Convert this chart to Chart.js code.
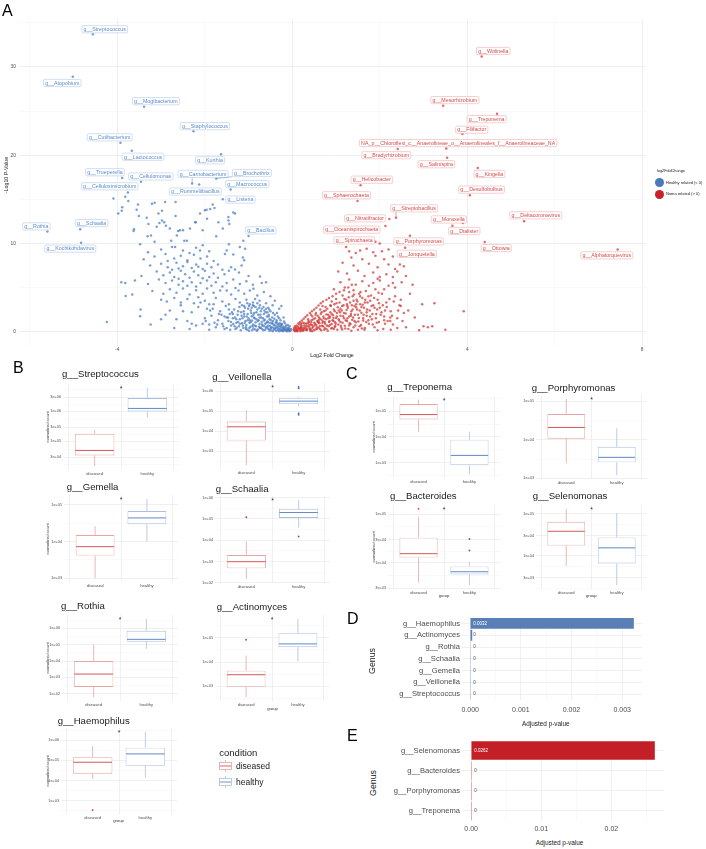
<!DOCTYPE html>
<html>
<head>
<meta charset="utf-8">
<script src="https://cdn.jsdelivr.net/npm/chart.js@4.4.1/dist/chart.umd.min.js"></script>
<style>
  html, body { margin: 0; padding: 0; background: #fff; }
  body { width: 706px; height: 849px; position: relative; overflow: hidden; font-family: "Liberation Sans", Arial, sans-serif; }
  canvas { position: absolute; }
  .t { position: absolute; white-space: nowrap; line-height: 1; color: #1a1a1a; }
</style>
</head>
<body>
<script>
// ── Panel A data: volcano (log2 fold change, -log10 p) ─────────────────────

const healthyPts = [
  [-4.09,15.1],[-3.82,15.3],[-3.75,14.8],[-3.89,14.1],[-3.9,13.7],[-3.98,13.4],[-3.53,14.4],[-3.56,13.8],
  [-3.51,13.1],[-3.62,11.6],[-3.63,11.4],[-3.33,12.9],[-3.29,12.2],[-3.31,10.8],[-3.48,9.9],[-3.21,14.5],
  [-3.15,14.6],[-2.91,14.7],[-2.67,14.7],[-3.06,13.4],[-2.98,13.7],[-3.1,11.9],[-2.93,12.4],[-2.89,12.0],
  [-3.23,10.9],[-3.15,10.2],[-2.77,10.3],[-2.64,10.9],[-2.61,11.4],[-2.5,11.5],[-2.47,10.3],[-2.34,11.7],
  [-2.22,12.4],[-2.68,9.6],[-2.0,13.75],[-1.88,13.9],[-1.78,14.0],[-1.82,14.4],[-1.69,12.4],[-1.59,11.7],
  [-1.46,13.0],[-1.46,12.6],[-1.44,12.2],[-2.05,11.5],[-1.12,10.3],[-1.13,8.4],[-1.1,8.1],[-1.16,7.5],
  [-1.74,10.8],[-1.95,12.8],[-2.11,9.2],[-1.35,13.5],[-1.2,9.6],[-1.5,9.2],[-2.98,12.6],[-3.04,12.3],
  [-2.67,13.1],[-2.8,11.7],[-2.57,11.5],[-2.21,12.4],[-2.11,13.4],[-1.96,13.8],[-2.41,10.3],[-1.31,13.4],
  [-3.0,9.3],[-2.75,9.6],[-2.5,9.2],[-2.2,9.5],[-2.05,9.8],[-1.9,9.1],[-1.45,9.9],[-1.08,9.4],[-3.3,9.0],[-2.35,8.9],
  [-3.15,8.5],[-2.9,8.8],[-2.7,8.3],[-2.55,8.6],[-2.4,8.1],[-2.25,8.7],[-2.1,8.3],[-1.95,8.5],[-1.8,8.0],
  [-1.54,8.8],[-1.35,8.75],[-2.85,8.0],[-3.4,8.2],
  [-3.25,7.5],[-3.0,7.7],[-2.85,7.3],[-2.65,7.8],[-2.5,7.4],[-2.4,7.9],[-2.3,7.2],[-2.2,7.6],[-2.05,7.1],
  [-1.95,7.7],[-1.85,7.3],[-1.7,7.6],[-1.6,7.0],[-1.4,7.3],[-1.31,7.05],[-2.75,7.0],[-2.6,7.15],[-2.15,7.35],
  [-3.45,6.3],[-3.1,6.8],[-2.95,6.4],[-2.8,6.7],[-2.7,6.2],[-2.55,6.9],[-2.45,6.5],[-2.35,6.1],[-2.25,6.8],
  [-2.15,6.4],[-2.0,6.9],[-1.9,6.2],[-1.8,6.6],[-1.7,6.1],[-1.55,6.5],[-1.45,6.9],[-1.22,6.7],[-1.0,6.3],
  [-0.74,6.25],[-0.6,5.6],[-2.6,6.0],[-2.05,6.05],
  [-3.6,5.8],[-3.91,5.6],[-3.82,5.5],[-3.3,5.4],[-3.05,5.9],[-2.9,5.5],[-2.75,5.8],[-2.6,5.3],[-2.5,5.7],
  [-2.4,5.2],[-2.3,5.6],[-2.2,5.1],[-2.1,5.5],[-1.95,5.8],[-1.85,5.2],[-1.75,5.6],[-1.6,5.1],[-1.5,5.5],
  [-1.35,5.9],[-1.2,5.4],[-1.05,5.7],[-0.9,5.3],[-0.7,5.5],
  [-3.81,4.05],[-3.66,4.2],[-3.2,4.6],[-2.95,4.3],[-2.8,4.8],[-2.65,4.4],[-2.5,4.9],[-2.35,4.2],[-2.2,4.7],
  [-2.05,4.3],[-1.95,4.9],[-1.8,4.4],[-1.65,4.66],[-1.5,4.66],[-1.4,4.2],[-1.23,4.66],[-1.1,4.3],[-0.97,4.66],
  [-0.89,4.85],[-0.8,4.1],[-0.65,4.5],[-0.5,4.0],[-1.3,4.95],
  [-3.47,2.5],[-3.48,1.74],[-3.0,3.6],[-2.87,3.4],[-2.7,3.8],[-2.55,3.3],[-2.4,3.7],[-2.25,3.2],[-2.15,3.9],
  [-2.0,3.5],[-1.9,3.1],[-1.75,3.8],[-1.6,3.4],[-1.45,3.1],[-1.3,3.7],[-1.2,3.3],[-1.05,3.6],[-0.9,3.3],
  [-0.75,3.5],[-0.6,3.2],[-0.45,3.0],[-0.3,2.6],[-0.55,2.7],[-0.35,2.1],[-0.2,1.6],
  [-4.24,1.1],[-3.24,0.8],[-3.0,1.4],[-2.8,2.4],[-2.35,0.3],[-1.9,0.2],[-0.85,3.7],[-0.4,3.5],[-0.25,2.9],
  [-0.05,0.1],[-0.1,0.2],[-0.12,0.05],[-0.15,0.35],[-0.18,0.15],[-0.2,0.5],[-0.22,0.25],[-0.25,0.1],[-0.27,0.6],
  [-0.3,0.35],[-0.32,0.8],[-0.33,0.15],[-0.35,0.55],[-0.38,1.0],[-0.4,0.3],[-0.42,0.75],[-0.44,1.2],[-0.45,0.05],
  [-0.47,0.5],[-0.5,0.95],[-0.52,1.4],[-0.53,0.25],[-0.55,0.7],[-0.57,1.15],[-0.58,1.7],[-0.6,0.45],[-0.62,0.9],
  [-0.63,1.35],[-0.65,2.0],[-0.66,0.15],[-0.68,0.65],[-0.7,1.1],[-0.71,1.6],[-0.72,2.3],[-0.74,0.4],[-0.75,0.85],
  [-0.77,1.3],[-0.78,1.9],[-0.8,2.5],[-0.81,0.1],[-0.83,0.6],[-0.84,1.05],[-0.86,1.5],[-0.87,2.1],[-0.89,0.35],
  [-0.9,0.8],[-0.92,1.25],[-0.93,1.75],[-0.95,2.4],[-0.96,0.55],[-0.98,1.0],[-1.0,1.5],[-1.02,2.0],[-1.03,0.2],
  [-1.05,0.75],[-1.07,1.2],[-1.08,2.7],[-1.1,1.7],[-1.12,0.4],[-1.15,0.95],[-1.17,2.2],[-1.2,1.4],[-1.22,0.6],
  [-1.25,1.9],[-1.28,1.0],[-1.3,0.3],[-1.33,2.5],[-1.36,1.5],[-1.4,0.7],[-1.43,2.0],[-1.46,1.2],[-1.5,0.4],
  [-1.52,2.9],[-1.55,1.7],[-1.6,0.9],[-1.65,2.3],[-1.7,1.3],[-1.75,0.5],[-1.8,3.1],[-1.85,1.8],[-1.9,0.8],
  [-1.95,2.6],[-2.0,1.5],[-2.1,3.3],[-2.2,0.7],[-2.3,2.2],[-2.4,1.2],[-2.55,3.0],[-2.7,0.4],[-2.9,1.9],
  [-0.08,0.45],[-0.14,0.7],[-0.24,0.9],[-0.36,1.3],[-0.46,1.6],[-0.54,1.9],[-0.64,2.4],[-0.76,2.7],[-0.88,2.9],[-0.97,3.1],
  [-0.03,0.3],[-0.07,0.05],[-0.09,0.2],[-0.11,0.4],[-0.13,0.15],[-0.16,0.55],[-0.19,0.3],[-0.21,0.05],[-0.23,0.7],
  [-0.26,0.45],[-0.28,0.2],[-0.29,0.95],[-0.31,0.6],[-0.34,0.35],[-0.36,1.1],[-0.37,0.1],[-0.39,0.7],[-0.41,1.45],
  [-0.43,0.45],[-0.46,1.0],[-0.48,0.2],[-0.49,1.3],[-0.51,0.6],[-0.54,1.7],[-0.56,0.35],[-0.59,1.0],[-0.61,2.2],
  [-0.64,0.6],[-0.67,1.5],[-0.69,0.3],[-0.73,1.9],[-0.76,0.55],[-0.79,1.2],[-0.82,2.2],[-0.85,0.25],[-0.88,1.6],
  [-0.91,0.6],[-0.94,2.1],[-0.97,1.3],[-0.99,0.1],[-1.01,2.6],[-1.04,1.7],[-1.06,0.5],[-1.09,1.0],[-1.11,2.3],
  [-1.14,1.5],[-1.18,0.15],[-1.21,2.8],[-1.24,1.1],[-1.27,0.45],[-1.31,1.6],[-1.35,0.85],[-1.38,2.2],[-1.42,0.2],
  [-1.47,1.6],[-1.58,0.6],[-1.68,2.0],[-1.78,1.0],[-1.88,2.4],[-2.05,0.9],
  [-0.06,0.6],[-0.1,0.75],[-0.17,0.95],[-0.19,1.15],[-0.27,1.3],[-0.3,1.5],[-0.33,1.7],[-0.4,1.9],[-0.44,2.1],
  [-0.5,2.3],[-0.53,2.5],[-0.57,2.2],[-0.6,2.6],[-0.66,2.8],[-0.7,2.6],[-0.74,3.0],[-0.8,3.2],[-0.84,2.8],
  [-0.9,3.0],[-0.93,2.7],[-0.99,2.9],[-1.03,3.2],[-1.1,2.9],[-1.15,3.0],
  [-0.04,0.15],[-0.08,0.3],[-0.14,0.1],[-0.16,0.25],[-0.21,0.4],[-0.24,0.15],[-0.26,0.8],[-0.3,0.05],[-0.34,0.9],
  [-0.38,0.45],[-0.42,0.2],[-0.45,0.85],[-0.49,0.4],[-0.52,0.1],[-0.55,1.05],[-0.58,0.55],[-0.62,0.2],[-0.65,1.25],
  [-0.69,0.8],[-0.72,0.45],[-0.75,1.6],[-0.79,0.25],[-0.82,1.4],[-0.86,0.7],[-0.89,1.9],[-0.92,0.15],[-0.95,1.1],
  [-0.98,0.4],[-1.02,1.3],[-1.06,0.3],[-1.1,2.0],[-1.13,0.7],[-1.16,1.8],[-1.2,0.9],[-1.24,2.3],[-1.28,1.4],
  [-1.32,0.6],[-1.36,2.0],[-1.4,1.1],[-1.45,2.5],[-1.5,1.6],[-1.55,0.3],[-1.62,1.9],[-1.72,0.8],[-1.82,2.6],
  [-1.98,1.2],[-2.15,2.8],[-2.3,0.9],[-2.5,2.3],[-2.65,1.4]
];

const nomaPts = [
  [0.05,0.1],[0.1,0.25],[0.12,0.05],[0.15,0.4],[0.18,0.15],[0.2,0.55],[0.22,0.3],[0.25,0.1],[0.27,0.7],[0.3,0.4],
  [0.32,0.9],[0.33,0.15],[0.35,0.6],[0.38,1.1],[0.4,0.3],[0.42,0.8],[0.44,1.3],[0.45,0.05],[0.47,0.55],[0.5,1.0],
  [0.52,1.5],[0.53,0.25],[0.55,0.75],[0.57,1.2],[0.58,1.8],[0.6,0.45],[0.62,0.95],[0.63,1.45],[0.65,2.0],[0.66,0.15],
  [0.68,0.65],[0.7,1.15],[0.71,1.7],[0.72,2.3],[0.74,0.4],[0.75,0.9],[0.77,1.4],[0.78,1.95],[0.8,2.6],[0.81,0.1],
  [0.83,0.6],[0.84,1.1],[0.86,1.6],[0.87,2.2],[0.88,2.9],[0.89,0.35],[0.9,0.85],[0.92,1.3],[0.93,1.85],[0.95,2.5],
  [0.96,3.1],[0.97,0.55],[0.98,1.05],[1.0,1.55],[1.02,2.1],[1.03,0.2],[1.04,2.75],[1.05,0.8],[1.07,1.25],[1.08,3.3],
  [1.1,1.8],[1.12,0.45],[1.13,2.4],[1.15,1.0],[1.17,3.0],[1.18,1.5],[1.2,0.65],[1.22,2.05],[1.23,3.6],[1.25,1.2],
  [1.27,2.7],[1.28,0.3],[1.3,1.7],[1.32,3.3],[1.33,0.85],[1.35,2.3],[1.37,1.35],[1.38,4.0],[1.4,0.5],[1.42,2.9],
  [1.43,1.9],[1.45,1.05],[1.47,3.6],[1.48,2.5],[1.5,0.2],[1.52,1.55],[1.53,4.3],[1.55,3.1],[1.57,0.75],[1.58,2.15],
  [1.6,3.8],[1.62,1.25],[1.64,2.7],[1.66,0.4],[1.68,4.6],[1.7,1.8],[1.72,3.3],[1.75,0.9],[1.77,2.4],[1.8,4.1],
  [1.82,1.4],[1.85,3.0],[1.88,0.5],[1.9,4.8],[1.92,2.0],[1.95,3.6],[1.98,1.1],[2.0,2.7],[2.05,4.3],[2.08,0.3],
  [2.1,1.7],[2.15,3.3],[2.2,5.2],[2.25,2.3],[2.3,0.8],[2.35,4.0],[2.4,1.5],[2.45,3.0],[2.55,2.1],[2.6,0.5],
  [0.08,0.5],[0.16,0.8],[0.24,1.0],[0.36,1.4],[0.46,1.7],[0.54,2.1],[0.64,2.5],[0.76,2.8],[0.9,3.4],[1.0,3.7],
  [1.15,4.1],[1.3,4.5],[0.2,0.9],[0.43,1.9],[0.69,2.9],[0.6,1.3],[0.85,1.75],[1.1,2.6],[1.25,3.1],[1.4,3.5],
  [1.55,4.0],[0.95,0.3],[1.35,0.1],[1.65,0.2],[1.95,0.15],[2.25,0.2],
  [0.03,0.2],[0.07,0.05],[0.09,0.35],[0.11,0.15],[0.13,0.55],[0.17,0.3],[0.19,0.05],[0.21,0.7],[0.23,0.45],[0.26,0.2],
  [0.28,0.95],[0.31,0.6],[0.34,0.3],[0.37,1.2],[0.39,0.75],[0.41,0.1],[0.43,1.05],[0.46,0.4],[0.48,1.4],[0.51,0.7],
  [0.53,1.9],[0.56,0.3],[0.59,1.05],[0.61,1.6],[0.63,0.6],[0.67,2.2],[0.69,1.0],[0.73,0.2],[0.73,1.5],[0.76,2.4],
  [0.79,0.7],[0.82,1.9],[0.85,1.2],[0.87,3.0],[0.91,0.4],[0.94,1.55],[0.97,2.3],[0.99,0.9],[1.01,3.2],[1.06,1.4],
  [1.09,2.2],[1.11,0.65],[1.14,2.9],[1.16,1.75],[1.19,3.7],[1.21,0.35],[1.24,2.45],[1.26,1.5],[1.29,3.9],[1.31,0.95],
  [1.34,2.0],[1.36,3.0],[1.39,1.6],[1.41,4.2],[1.44,0.7],[1.46,2.75],[1.49,3.4],[1.51,1.15],[1.54,2.4],[1.56,4.5],
  [1.59,0.35],[1.61,3.05],[1.63,1.9],[1.67,3.6],[1.69,1.1],[1.71,2.5],[1.74,4.0],[1.78,1.7],[1.81,2.9],[1.84,0.8],
  [1.87,3.8],[1.91,1.5],[1.94,2.5],[1.97,4.4],[2.02,1.9],[2.07,3.0],[2.12,2.4],[2.18,1.2],[2.22,3.7],[2.28,1.8],
  [0.04,0.4],[0.06,0.6],[0.1,0.7],[0.14,0.95],[0.18,1.1],[0.22,1.25],[0.26,1.45],[0.3,1.65],[0.34,1.85],[0.4,2.1],
  [0.45,2.3],[0.5,2.5],[0.55,2.7],[0.6,2.95],[0.65,3.2],[0.7,3.4],[0.78,3.6],[0.84,3.8],[0.92,4.0],[1.0,4.3],
  [1.08,4.5],[1.18,4.7],[1.28,5.0],[1.36,5.3],
  [0.06,0.25],[0.1,0.1],[0.14,0.3],[0.19,0.45],[0.23,0.15],[0.27,0.4],[0.31,0.2],[0.35,0.95],[0.39,0.5],[0.42,0.25],
  [0.45,0.75],[0.49,0.15],[0.52,0.9],[0.56,0.5],[0.6,1.1],[0.63,0.3],[0.67,1.35],[0.7,0.6],[0.74,1.1],[0.78,0.3],
  [0.82,1.5],[0.86,0.75],[0.9,2.0],[0.94,1.2],[0.98,0.6],[1.02,1.7],[1.06,2.4],[1.1,1.1],[1.14,0.25],[1.18,2.1],
  [1.22,1.3],[1.26,2.9],[1.3,0.7],[1.34,1.8],[1.38,2.5],[1.42,1.2],[1.46,3.1],[1.5,1.9],[1.54,0.6],[1.58,2.8],
  [1.62,1.5],[1.66,3.3],[1.7,2.2],[1.74,1.3],[1.78,3.5],[1.83,2.0],[1.88,2.7],[1.93,1.0],[1.98,3.2],[2.04,2.2],
  [2.1,1.3],[2.16,2.8],[2.24,1.6],[2.32,3.4],[2.42,2.4],[2.52,1.2],
  [1.23,9.6],[1.55,9.2],[1.45,8.9],[1.7,9.4],[1.85,9.0],[2.05,9.1],[2.2,9.3],[1.35,8.4],[1.6,8.2],[1.9,8.6],
  [2.1,8.2],[2.3,8.5],[2.46,7.6],[2.55,7.4],[1.15,7.8],[1.4,7.5],[1.75,7.7],[1.95,7.3],[2.2,7.6],[2.35,7.1],
  [1.05,6.8],[1.25,6.6],[1.5,6.9],[1.65,6.3],[1.85,6.7],[2.0,6.2],[2.15,6.5],[2.3,6.2],[2.4,6.8],[1.1,5.6],
  [1.3,5.9],[1.45,5.3],[1.6,5.7],[1.75,5.2],[2.0,5.8],[2.3,5.5],[2.35,5.0],[2.5,5.6],[0.95,4.8],[1.2,5.0],
  [1.4,4.7],[1.85,5.5],[2.1,4.8],[2.75,5.3],[2.69,4.3],[2.48,3.6],[2.48,2.9],[2.97,3.1],[3.25,3.2],[3.92,2.3],
  [3.0,0.6],[3.1,0.5],[3.2,0.6],[2.24,1.2],[2.12,0.9],[2.4,0.4],[2.8,1.6],[2.65,2.4],[3.5,0.2],[2.9,0.15],
  [1.95,6.0],[2.6,6.3],[2.0,10.0],[1.3,9.1]
];

// labelled genera: [name, log2FC, -log10 p]
const healthyLabelled = [
  ['g__Streptococcus', -4.56, 33.7], ['g__Atopobium', -5.02, 28.9], ['g__Mogibacterium', -3.39, 25.5],
  ['g__Staphylococcus', -2.26, 22.7], ['g__Cutibacterium', -3.93, 21.4], ['g__Lactococcus', -3.67, 20.5],
  ['g__Kurthia', -1.63, 20.1], ['g__Trueperella', -3.89, 17.4], ['g__Cellulomonas', -3.46, 17.0],
  ['g__Carnobacterium', -2.29, 16.8], ['g__Brochothrix', -1.74, 17.35], ['g__Cellulosimicrobium', -3.76, 15.76],
  ['g__Macrococcus', -1.41, 16.1], ['g__Rummeliibacillus', -2.13, 16.67], ['g__Listeria', -1.59, 15.0],
  ['g__Bacillus', -1.0, 10.83], ['g__Rothia', -5.6, 11.36], ['g__Schaalia', -4.85, 11.6],
  ['g__Kochikohdavirus', -4.83, 10.08]
];
const nomaLabelled = [
  ['g__Wolinella', 4.33, 31.2], ['g__Mesorhizobium', 3.45, 25.6], ['g__Treponema', 4.68, 24.7],
  ['g__Filifactor', 3.89, 22.4],
  ['NA_p__Chloroflexi_c__Anaerolineae_o__Anaerolineales_f__Anaerolineaceae_NA', 3.52, 20.75],
  ['g__Bradyrhizobium', 2.41, 20.7], ['g__Salinispira', 3.54, 19.7], ['g__Kingella', 4.24, 18.55],
  ['g__Helicobacter', 1.56, 16.6], ['g__Desulfobulbus', 4.06, 15.45], ['g__Sphaerochaeta', 1.49, 14.8],
  ['g__Streptobacillus', 2.37, 12.92], ['g__Nitratifractor', 2.22, 12.76], ['g__Oceanispirochaeta', 2.13, 11.97],
  ['g__Moraxella', 3.66, 12.0], ['g__Dialister', 3.9, 12.3], ['g__Deltacoronavirus', 5.3, 12.5],
  ['g__Porphyromonas', 2.69, 10.87], ['g__Jonquetella', 2.58, 9.5], ['g__Ottowia', 4.4, 10.15],
  ['g__Alphatorquevirus', 7.44, 9.3], ['g__Spirochaeta', 1.9, 10.2]
];

// ── Panels B/C data: per-genus box statistics ──────────────────────────────

const boxGenera = ['g__Streptococcus', 'g__Veillonella', 'g__Gemella', 'g__Schaalia', 'g__Rothia', 'g__Actinomyces',
  'g__Haemophilus', 'g__Treponema', 'g__Porphyromonas', 'g__Bacteroides', 'g__Selenomonas'];
const groups = ['diseased', 'healthy'];
// [lower whisker, Q1, median, Q3, upper whisker]
const diseasedStats = [
  [1.5e4, 3.4e4, 5.0e4, 1.8e5, 2.4e5],
  [200, 3.4e3, 1.66e4, 3.05e4, 1.17e5],
  [1.0e3, 4.1e3, 7.2e3, 1.49e4, 2.6e4],
  [150, 480, 980, 2.0e3, 8.9e3],
  [63, 260, 1.6e3, 1.0e4, 1.0e5],
  [360, 950, 3.0e3, 4.4e3, 1.86e4],
  [1.17e4, 2.2e4, 8.1e4, 1.45e5, 5.2e5],
  [1.6e4, 4.8e4, 7.4e4, 1.9e5, 2.8e5],
  [2.45e3, 1.07e4, 2.1e4, 4.7e4, 1.17e5],
  [4.0e3, 1.29e4, 1.55e4, 3.3e4, 8.9e4],
  [5.8e3, 1.76e4, 3.85e4, 6.5e4, 1.32e5]
];
const healthyStats = [
  [6.3e5, 1.0e6, 1.26e6, 2.8e6, 6.1e6],
  [1.8e5, 2.3e5, 3.2e5, 4.7e5, 5.4e5],
  [1.0e4, 2.95e4, 4.4e4, 6.8e4, 1.45e5],
  [3.9e4, 1.12e5, 2.0e5, 2.95e5, 7.8e5],
  [5.5e4, 1.48e5, 2.1e5, 6.9e5, 3.7e6],
  [1.05e4, 4.1e4, 5.6e4, 1.55e5, 6.0e5],
  [1.4e4, 5.4e4, 2.1e5, 4.3e5, 2.6e6],
  [350, 790, 1.9e3, 7.8e3, 1.6e4],
  [1.2e3, 2.6e3, 3.5e3, 6.6e3, 2.0e4],
  [3.5e3, 5.8e3, 6.6e3, 8.5e3, 1.05e4],
  [2.0e3, 6.6e3, 1.55e4, 2.75e4, 1.05e5]
];
const diseasedOutliers = [[], [], [], [1.2e5], [], [8.3e4], [340], [], [], [1.29e5], []];
const healthyOutliers = [[], [1.66e6, 1.41e6, 7.9e4, 6.6e4], [], [1.5e4], [], [], [], [], [], [3.1e4, 1.8e4], []];
const boxTicks = [
  [3e4, 1e5, 3e5, 1e6, 3e6],
  [1e3, 1e4, 1e5, 1e6],
  [1e3, 1e4, 1e5],
  [1e2, 1e3, 1e4, 1e5, 1e6],
  [1e2, 1e3, 1e4, 1e5, 1e6],
  [1e3, 1e4, 1e5],
  [1e3, 1e4, 1e5, 1e6],
  [1e3, 1e4, 1e5],
  [1e3, 1e4, 1e5],
  [3e3, 1e4, 3e4, 1e5],
  [3e3, 1e4, 3e4, 1e5]
];

// ── Panels D/E data: adjusted p-values ─────────────────────────────────────

const healthyGenera = ['g__Haemophilus', 'g__Actinomyces', 'g__Rothia', 'g__Schaalia', 'g__Gemella', 'g__Veillonella', 'g__Streptococcus'];
const healthyPadj = [0.00323, 0.00004, 0.000002, 0.0000005, 0.0000001, 0.0000001, 0.00000005];
const nomaGenera = ['g__Selenomonas', 'g__Bacteroides', 'g__Porphyromonas', 'g__Treponema'];
const nomaPadj = [0.0262, 0.000003, 0.0000004, 0.0000001];

// ── Style ──────────────────────────────────────────────────────────────────

const FONT = '"Liberation Sans", Arial, sans-serif';
const AXIS_TXT = '#4d4d4d';
const BLUE_PT = 'rgba(70,122,192,0.72)', RED_PT = 'rgba(206,52,52,0.72)';
const BLUE_TXT = '#5a8bcb', BLUE_EDGE = '#b3c9e8';
const RED_TXT = '#d24a4a', RED_EDGE = '#efb0b0';
const BOX_RED = '#e9a4a4', BOX_RED_MED = '#d45858', BOX_RED_DOT = '#e02a2a';
const BOX_BLUE = '#aac0e2', BOX_BLUE_MED = '#6289c8', BOX_BLUE_DOT = '#3467c2';
const GRID = '#e6e6e6', GRID_MINOR = '#f2f2f2';

Chart.defaults.font.family = FONT;
Chart.defaults.color = AXIS_TXT;
Chart.defaults.animation = false;
Chart.defaults.plugins.legend.display = false;
Chart.defaults.plugins.tooltip.enabled = false;

// ── Utilities ──────────────────────────────────────────────────────────────

function txt(s, x, base, size, o = {}) {
  const d = document.createElement('div');
  d.className = 't';
  d.textContent = s;
  d.style.fontSize = size + 'px';
  d.style.left = x + 'px';
  d.style.top = (base - 0.847 * size) + 'px';
  if (o.color) d.style.color = o.color;
  if (o.center) d.style.transform = 'translateX(-50%)';
  document.body.appendChild(d);
  return d;
}

function vtxt(s, cx, cy, size, color) {
  const d = document.createElement('div');
  d.className = 't';
  d.textContent = s;
  d.style.fontSize = size + 'px';
  d.style.left = cx + 'px';
  d.style.top = cy + 'px';
  d.style.color = color || '#1a1a1a';
  d.style.transform = 'translate(-50%,-50%) rotate(-90deg)';
  document.body.appendChild(d);
}

function fmtE(v) {
  const e = Math.floor(Math.log10(v) + 1e-9);
  const m = Math.round(v / 10 ** e);
  return m + 'e' + (e >= 0 ? '+' : '-') + String(Math.abs(e)).padStart(2, '0');
}

// place a chart so that its plot area lands on `area` (page pixels)
function place(area, m, config) {
  const cv = document.createElement('canvas');
  const W = Math.round(m.l + area.w + m.r), H = Math.round(m.t + area.h + m.b);
  cv.width = W; cv.height = H;
  cv.style.width = W + 'px'; cv.style.height = H + 'px';
  document.body.appendChild(cv);
  const o = config.options;
  o.responsive = false;
  o.maintainAspectRatio = false;
  o.layout = { padding: { top: m.t, right: m.r, left: 0, bottom: 0 } };
  Object.values(o.scales).forEach(s => {
    s.afterFit = sc => { if (sc.isHorizontal()) sc.height = m.b; else sc.width = m.l; };
  });
  const ch = new Chart(cv, config);
  const a = ch.chartArea;
  cv.style.left = (area.x - a.left) + 'px';
  cv.style.top = (area.y - a.top) + 'px';
  return ch;
}

function logMinors(majors, lo, hi) {
  const lg = majors.map(Math.log10), out = [];
  for (let i = 0; i < lg.length - 1; i++) out.push((lg[i] + lg[i + 1]) / 2);
  if (lg.length > 1) {
    out.push(lg[0] - (lg[1] - lg[0]) / 2);
    out.push(lg[lg.length - 1] + (lg[lg.length - 1] - lg[lg.length - 2]) / 2);
  }
  return out.filter(v => v > lo && v < hi).map(v => 10 ** v);
}

// ── Panel A: volcano ───────────────────────────────────────────────────────

const healthyLabelOffsets = [
  [11.8, -5.1], [-10.5, 6.3], [11.8, -5.5], [11.4, -5.2], [-10.8, -5.5], [11.3, 6], [-11, 6], [-17.3, -5.9],
  [9.8, -5.2], [10.9, -9.5, 1], [35.7, -5.5, 1], [-18.2, -6.3], [16.6, -5.5], [-3.8, 7], [17.6, 0.3],
  [12.2, -5.7], [-11.1, -5], [11.4, -6.2], [-10.8, 6]
];
const nomaLabelOffsets = [
  [11.6, -5.4], [11.7, -5.7], [-10.3, 5.4], [9.3, -4.3], [11.9, -5.5], [-11.4, 6.2], [-10.8, 6.4], [11.7, 6],
  [11.3, -5.5], [11.7, -5.7], [-11, -5.8], [18.2, -9.3, 1], [-24.3, -0.7], [-33.7, 3.6], [-3.5, -6.3],
  [1.4, 7.9], [11.7, -6], [8.8, 5.7], [11.7, 6], [11.5, 6], [-10.9, 5.8], [-21.2, -1.2]
];

const repelLabels = {
  id: 'repelLabels',
  afterDatasetsDraw(ch) {
    const { ctx, scales: { x, y } } = ch;
    ctx.save();
    ctx.font = `5.3px ${FONT}`;
    ctx.textAlign = 'center';
    ctx.textBaseline = 'middle';
    const sets = [
      [healthyLabelled, healthyLabelOffsets, BLUE_TXT, BLUE_EDGE],
      [nomaLabelled, nomaLabelOffsets, RED_TXT, RED_EDGE]
    ];
    for (const [pts, offs, tc, ec] of sets) {
      pts.forEach(([name, lx, ly], i) => {
        const px = x.getPixelForValue(lx), py = y.getPixelForValue(ly);
        const [dx, dy, seg] = offs[i];
        const cx = px + dx, cy = py + dy;
        const w = ctx.measureText(name).width + 3.4, h = 7.2;
        const bx = cx - w / 2, by = cy - h / 2;
        if (seg) {
          const nx = Math.min(Math.max(px, bx), bx + w), ny = Math.min(Math.max(py, by), by + h);
          ctx.strokeStyle = tc; ctx.lineWidth = 0.5;
          ctx.beginPath(); ctx.moveTo(px, py); ctx.lineTo(nx, ny); ctx.stroke();
        }
        ctx.beginPath();
        if (ctx.roundRect) ctx.roundRect(bx, by, w, h, 1.4); else ctx.rect(bx, by, w, h);
        ctx.fillStyle = 'rgba(255,255,255,0.92)'; ctx.fill();
        ctx.strokeStyle = ec; ctx.lineWidth = 0.6; ctx.stroke();
        ctx.fillStyle = tc;
        ctx.fillText(name, cx, cy + 0.3);
      });
    }
    ctx.restore();
  }
};

(function volcano() {
  const hPts = healthyPts.concat(healthyLabelled.map(r => [r[1], r[2]]));
  const nPts = nomaPts.concat(nomaLabelled.map(r => [r[1], r[2]]));
  const all = hPts.concat(nPts);
  const xs = all.map(p => p[0]), ys = all.map(p => p[1]);
  const xlo = Math.min(...xs), xhi = Math.max(...xs), ylo = Math.min(...ys), yhi = Math.max(...ys);
  const xp = 0.05 * (xhi - xlo), yp = 0.05 * (yhi - ylo);
  const xMaj = [-4, 0, 4, 8], yMaj = [0, 10, 20, 30];
  const gridCol = maj => c => maj.includes(c.tick.value) ? GRID : GRID_MINOR;
  const gridW = maj => c => maj.includes(c.tick.value) ? 0.7 : 0.5;

  place({ x: 18.9, y: 19.5, w: 627.3, h: 326.3 }, { l: 18.9, t: 19.5, r: 59.8, b: 10 }, {
    type: 'scatter',
    data: {
      datasets: [
        { data: hPts.map(p => ({ x: p[0], y: p[1] })), backgroundColor: BLUE_PT, borderWidth: 0, pointRadius: 1.25 },
        { data: nPts.map(p => ({ x: p[0], y: p[1] })), backgroundColor: RED_PT, borderWidth: 0, pointRadius: 1.25 }
      ]
    },
    options: {
      scales: {
        x: {
          type: 'linear', min: xlo - xp, max: xhi + xp,
          afterBuildTicks: s => { s.ticks = [-6, -4, -2, 0, 2, 4, 6, 8].map(v => ({ value: v })); },
          ticks: { callback: v => xMaj.includes(v) ? String(v) : '', font: { size: 4.8 }, padding: 0.6, autoSkip: false, maxRotation: 0 },
          grid: { color: gridCol(xMaj), lineWidth: gridW(xMaj), drawTicks: false },
          border: { display: false }
        },
        y: {
          type: 'linear', min: ylo - yp, max: yhi + yp,
          afterBuildTicks: s => { s.ticks = [0, 5, 10, 15, 20, 25, 30, 35].map(v => ({ value: v })); },
          ticks: { callback: v => yMaj.includes(v) ? String(v) : '', font: { size: 4.8 }, padding: 3, autoSkip: false },
          grid: { color: gridCol(yMaj), lineWidth: gridW(yMaj), drawTicks: false },
          border: { display: false }
        }
      }
    },
    plugins: [repelLabels]
  });

  txt('Log2 Fold Change', 332, 357.5, 5.3, { center: true });
  vtxt('-Log10 P-Value', 6.5, 175, 5.3);

  // legend
  txt('log2FoldChange', 657, 173.5, 3.8);
  [['#4a78ba', 'Healthy related (< 0)', 182.7], ['#c8222a', 'Noma related (> 0)', 194.3]].forEach(([col, lab, cy]) => {
    const dot = document.createElement('div');
    dot.style.cssText = `position:absolute;left:${659.7 - 4.7}px;top:${cy - 4.7}px;width:9.4px;height:9.4px;border-radius:50%;background:${col};`;
    document.body.appendChild(dot);
    txt(lab, 666, cy + 1.4, 4);
  });
})();

// ── Panels B/C: box plots ──────────────────────────────────────────────────

const boxAreas = [
  { x: 62.5, y: 383.8, w: 115.5, h: 86.1 },
  { x: 215.2, y: 383.4, w: 114.8, h: 86.2 },
  { x: 63.8, y: 495.2, w: 114.4, h: 87.2 },
  { x: 215, y: 495.7, w: 115.3, h: 86.5 },
  { x: 62, y: 615.4, w: 116, h: 86.1 },
  { x: 215.3, y: 615.4, w: 114.4, h: 86.1 },
  { x: 60.6, y: 728.1, w: 115.8, h: 86.2 },
  { x: 387.9, y: 395.6, w: 112.2, h: 82.4 },
  { x: 536, y: 394.5, w: 110.7, h: 83.6 },
  { x: 387.9, y: 505.2, w: 112.2, h: 83.6 },
  { x: 536, y: 505.2, w: 110.7, h: 83.6 }
];
// title [left, baseline]; x of the rotated y title (null = none); whether "group" is shown
const boxTitles = [[62, 377.3], [212.3, 379.7], [66.7, 490], [215.7, 492], [61, 608.7], [216.7, 610], [57.7, 724],
  [387.3, 390], [531.7, 391.5], [390, 499], [532.7, 499]];
const boxYTitleX = [47.7, null, 47.7, null, 47.7, null, 47.7, 374, null, 374, null];
const boxHasGroup = [false, false, false, false, false, true, true, false, false, true, true];

function boxPlugin(stats) {
  return {
    id: 'boxParts',
    beforeDatasetsDraw(ch) {
      const { ctx, scales: { x, y } } = ch;
      ctx.save();
      ctx.lineWidth = 0.8;
      stats.forEach((s, i) => {
        const px = x.getPixelForValue(i + 1);
        ctx.strokeStyle = i === 0 ? BOX_RED : BOX_BLUE;
        ctx.beginPath();
        ctx.moveTo(px, y.getPixelForValue(s[0])); ctx.lineTo(px, y.getPixelForValue(s[1]));
        ctx.moveTo(px, y.getPixelForValue(s[3])); ctx.lineTo(px, y.getPixelForValue(s[4]));
        ctx.stroke();
      });
      ctx.restore();
    },
    afterDatasetsDraw(ch) {
      const { ctx, scales: { x, y } } = ch;
      const bars = ch.getDatasetMeta(0).data;
      ctx.save();
      ctx.lineWidth = 1;
      stats.forEach((s, i) => {
        const px = x.getPixelForValue(i + 1), half = bars[i].width / 2, py = y.getPixelForValue(s[2]);
        ctx.strokeStyle = i === 0 ? BOX_RED_MED : BOX_BLUE_MED;
        ctx.beginPath(); ctx.moveTo(px - half + 0.4, py); ctx.lineTo(px + half - 0.4, py); ctx.stroke();
      });
      // significance star at the top of the data
      ctx.fillStyle = '#333';
      ctx.font = `7px ${FONT}`;
      ctx.textAlign = 'center';
      ctx.textBaseline = 'alphabetic';
      ctx.fillText('*', x.getPixelForValue(1.5), y.getPixelForValue(y.options.dataMax) + 3.4);
      ctx.restore();
    }
  };
}

boxGenera.forEach((name, i) => {
  const d = diseasedStats[i], h = healthyStats[i];
  const vals = d.concat(h, diseasedOutliers[i], healthyOutliers[i]);
  const lg = vals.map(Math.log10);
  const lo = Math.min(...lg), hi = Math.max(...lg), pad = 0.05 * (hi - lo);
  const majors = boxTicks[i];
  const minors = logMinors(majors, lo - pad, hi + pad);
  const isMaj = v => majors.some(m => Math.abs(m - v) / m < 1e-6);

  place(boxAreas[i], { l: 24, t: 6, r: 4, b: 8 }, {
    type: 'bar',
    data: {
      datasets: [
        {
          data: [{ x: 1, y: [d[1], d[3]] }, { x: 2, y: [h[1], h[3]] }],
          backgroundColor: '#ffffff', borderColor: [BOX_RED, BOX_BLUE], borderWidth: 0.9,
          borderSkipped: false, barPercentage: 0.75, categoryPercentage: 1
        },
        { type: 'scatter', data: diseasedOutliers[i].map(v => ({ x: 1, y: v })), backgroundColor: BOX_RED_DOT, borderWidth: 0, pointRadius: 0.9 },
        { type: 'scatter', data: healthyOutliers[i].map(v => ({ x: 2, y: v })), backgroundColor: BOX_BLUE_DOT, borderWidth: 0, pointRadius: 0.9 }
      ]
    },
    options: {
      scales: {
        x: {
          type: 'linear', min: 0.4, max: 2.6, offset: false,
          afterBuildTicks: s => { s.ticks = [{ value: 1 }, { value: 2 }]; },
          ticks: { callback: v => groups[v - 1], font: { size: 4.2 }, padding: 1, autoSkip: false, maxRotation: 0 },
          grid: { color: GRID, lineWidth: 0.6, drawTicks: false },
          border: { display: false }
        },
        y: {
          type: 'logarithmic', min: 10 ** (lo - pad), max: 10 ** (hi + pad), dataMax: 10 ** hi,
          afterBuildTicks: s => { s.ticks = majors.concat(minors).map(v => ({ value: v })); },
          ticks: { callback: v => isMaj(v) ? fmtE(v) : '', font: { size: 3.8 }, padding: 2, autoSkip: false },
          grid: { color: c => isMaj(c.tick.value) ? GRID : GRID_MINOR, lineWidth: c => isMaj(c.tick.value) ? 0.6 : 0.45, drawTicks: false },
          border: { display: false }
        }
      }
    },
    plugins: [boxPlugin([d, h])]
  });

  const a = boxAreas[i];
  txt(name, boxTitles[i][0], boxTitles[i][1], 9.6);
  if (boxYTitleX[i] != null) vtxt('normalized count', boxYTitleX[i], a.y + a.h / 2, 4.1, '#333');
  if (boxHasGroup[i]) txt('group', a.x + a.w / 2, a.y + a.h + 8.6, 4.2, { center: true, color: '#333' });
});

// condition legend (panel B)
txt('condition', 219.3, 756.5, 9.5);
[[BOX_RED, BOX_RED_MED, 'diseased', 760], [BOX_BLUE, BOX_BLUE_MED, 'healthy', 776]].forEach(([edge, med, lab, top]) => {
  const k = document.createElementNS('http://www.w3.org/2000/svg', 'svg');
  k.setAttribute('width', '13'); k.setAttribute('height', '12');
  k.style.cssText = `position:absolute;left:219px;top:${top}px;`;
  k.innerHTML = `<line x1="6.5" y1="0" x2="6.5" y2="2.5" stroke="${edge}" stroke-width="0.8"/>
    <line x1="6.5" y1="9.5" x2="6.5" y2="12" stroke="${edge}" stroke-width="0.8"/>
    <rect x="0.5" y="2.5" width="12" height="7" fill="#fff" stroke="${edge}" stroke-width="0.8"/>
    <line x1="0.9" y1="6" x2="12.1" y2="6" stroke="${med}" stroke-width="0.9"/>`;
  document.body.appendChild(k);
  txt(lab, 236, top + 9, 8.5);
});

// ── Panels D/E: adjusted p-values ──────────────────────────────────────────

function padjChart(labels, values, colour, area, majors, minors, dec, tickPad) {
  const hi = Math.max(...values), pad = 0.05 * hi;
  const isMaj = v => majors.some(m => Math.abs(m - v) < 1e-12);
  place(area, { l: 84, t: 4, r: 4, b: 14 }, {
    type: 'bar',
    data: { labels, datasets: [{ data: values, backgroundColor: colour, barPercentage: 0.92, categoryPercentage: 1 }] },
    options: {
      indexAxis: 'y',
      scales: {
        x: {
          type: 'linear', min: -pad, max: hi + pad,
          afterBuildTicks: s => { s.ticks = majors.concat(minors).map(v => ({ value: v })); },
          ticks: { callback: v => isMaj(v) ? v.toFixed(dec) : '', font: { size: 7 }, padding: tickPad, autoSkip: false, maxRotation: 0 },
          grid: { color: c => isMaj(c.tick.value) ? GRID : GRID_MINOR, lineWidth: c => isMaj(c.tick.value) ? 0.6 : 0.45, drawTicks: false },
          border: { display: false }
        },
        y: {
          ticks: { font: { size: 7.6 }, padding: 2, autoSkip: false },
          grid: { color: GRID, lineWidth: 0.6, drawTicks: false, offset: false },
          border: { display: false }
        }
      }
    },
    plugins: [{
      id: 'valueText',
      afterDatasetsDraw(ch) {
        const { ctx, scales: { x } } = ch;
        const x0 = x.getPixelForValue(0);
        ctx.save();
        ctx.font = `4.5px ${FONT}`;
        ctx.textBaseline = 'middle';
        ch.getDatasetMeta(0).data.forEach((bar, i) => {
          const v = values[i];
          ctx.fillStyle = (bar.x - x0) > 20 ? '#ffffff' : AXIS_TXT;
          ctx.fillText(String(Number(v.toFixed(4))), x0 + 3, bar.y);
        });
        ctx.restore();
      }
    }]
  });
}

padjChart(healthyGenera, healthyPadj, '#5a7fb6', { x: 461.8, y: 617.6, w: 179.8, h: 85.2 },
  [0, 0.001, 0.002, 0.003], [0.0005, 0.0015, 0.0025], 3, 6);
padjChart(nomaGenera, nomaPadj, '#c21f26', { x: 461.8, y: 740.3, w: 201.7, h: 83.1 },
  [0, 0.01, 0.02], [0.005, 0.015, 0.025], 2, 3.5);

txt('Adjusted p-value', 545.8, 726.5, 6.4, { center: true });
txt('Adjusted p-value', 559.5, 845.2, 6.4, { center: true });
vtxt('Genus', 371.7, 661, 8.8);
vtxt('Genus', 373.3, 783.3, 8.8);

// ── Panel letters ──────────────────────────────────────────────────────────

[['A', 2, 16.1], ['B', 13, 373.4], ['C', 346, 379.4], ['D', 347, 624.5], ['E', 347, 741.5]].forEach(([l, x, b]) => {
  txt(l, x, b, 16, { color: '#000' });
});
</script>
</body>
</html>
